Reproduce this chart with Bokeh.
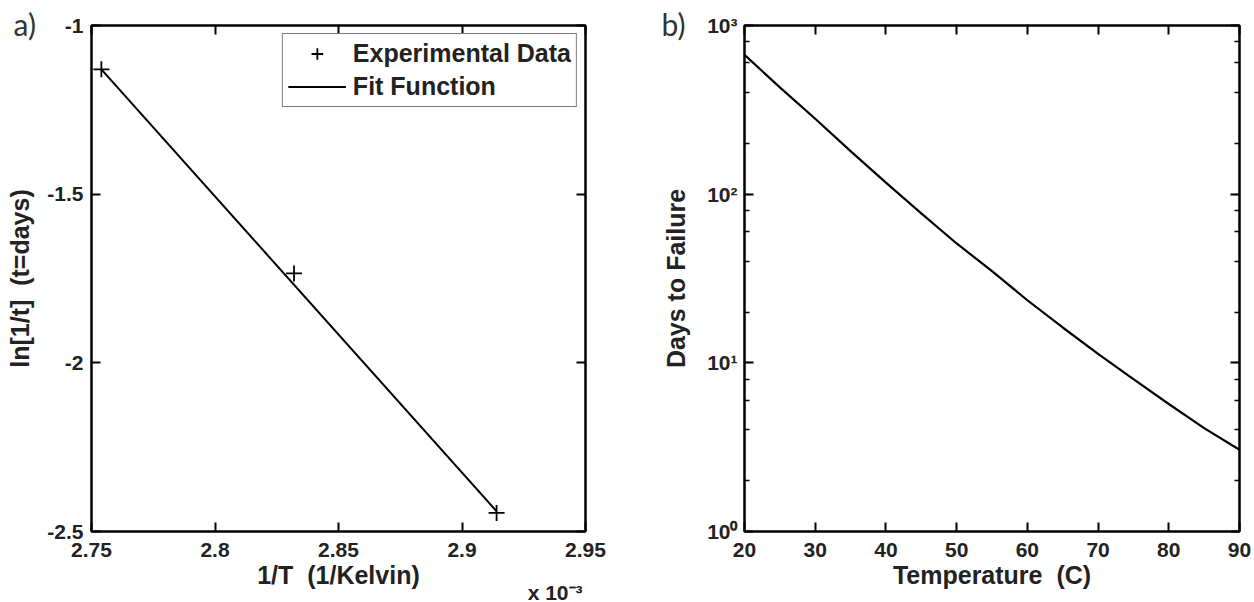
from bokeh.plotting import figure
from bokeh.layouts import row
from bokeh.models import (LinearAxis, LogAxis, FixedTicker, LogTicker, CustomJSTickFormatter,
                          Legend, LegendItem, Range1d, Title)
from bokeh.embed import file_html
from bokeh.resources import INLINE

# ---------------- data ----------------
# panel a: Arrhenius plot (1/T in units of 1e-3 1/K)
inv_T = [2.754, 2.832, 2.914]
ln_inv_t = [-1.13, -1.735, -2.445]
fit_inv_T = [2.754, 2.914]
fit_ln_inv_t = [-1.13, -2.44]

# panel b: days to failure vs temperature
temp_C = [20, 25, 30, 35, 40, 45, 50, 55, 60, 65, 70, 75, 80, 85, 90]
days_to_failure = [670, 430, 280, 180, 117, 77, 51, 35, 23.5, 16.2, 11.3, 8.0, 5.7, 4.1, 3.05]

x_ticks_a = [2.75, 2.8, 2.85, 2.9, 2.95]
y_ticks_a = [-2.5, -2, -1.5, -1]
x_ticks_b = [20, 30, 40, 50, 60, 70, 80, 90]

FONT = "Liberation Sans"
TICK_SIZE = "21px"
LABEL_SIZE = "25px"
NB = "\u00a0"

num_fmt = CustomJSTickFormatter(code="return String(Math.round(tick*1000)/1000);")
log_fmt = CustomJSTickFormatter(code="""
const sup = {'-':'\u207b','0':'\u2070','1':'\u00b9','2':'\u00b2','3':'\u00b3','4':'\u2074',
             '5':'\u2075','6':'\u2076','7':'\u2077','8':'\u2078','9':'\u2079'};
const e = String(Math.round(Math.log10(tick)));
return '10' + e.split('').map(c => sup[c]).join('');
""")
blank_fmt = CustomJSTickFormatter(code="return '';")


def style_axis(ax):
    ax.axis_line_color = "black"
    ax.axis_line_width = 2
    ax.major_tick_line_color = "black"
    ax.major_tick_line_width = 2
    ax.major_tick_in = 9
    ax.major_tick_out = 0
    ax.minor_tick_line_color = "black"
    ax.minor_tick_line_width = 1.5
    ax.minor_tick_in = 5
    ax.minor_tick_out = 0
    ax.major_label_text_font = FONT
    ax.major_label_text_font_style = "bold"
    ax.major_label_text_color = "#222222"
    ax.major_label_text_font_size = TICK_SIZE
    ax.axis_label_text_font = FONT
    ax.axis_label_text_font_style = "bold"
    ax.axis_label_text_color = "#222222"
    ax.axis_label_text_font_size = LABEL_SIZE


def mirror_axis(ax):
    style_axis(ax)
    ax.formatter = blank_fmt
    ax.major_label_standoff = 0


def panel_title(p, text, offset):
    p.title.text = text
    p.title.align = "left"
    p.title.offset = offset
    p.title.vertical_align = "top"
    p.title.standoff = -37
    p.title.text_font = "Lato"
    p.title.text_font_size = "30px"
    p.title.text_font_style = "normal"
    p.title.text_color = "#333333"


# ---------------- panel a ----------------
pa = figure(width=625, height=600, output_backend="svg", toolbar_location=None,
            x_range=Range1d(2.75, 2.95), y_range=Range1d(-2.5, -1),
            min_border_left=91, min_border_right=40, min_border_top=25, min_border_bottom=69)
pa.outline_line_color = "black"
pa.outline_line_width = 2
pa.xgrid.visible = False
pa.ygrid.visible = False
panel_title(pa, "a)", -78)

fit_r = pa.line(fit_inv_T, fit_ln_inv_t, line_color="black", line_width=2)
pts_r = pa.scatter(inv_T, ln_inv_t, marker="cross", size=16, line_color="black", line_width=1.8)

pa.xaxis.ticker = FixedTicker(ticks=x_ticks_a, minor_ticks=[])
pa.yaxis.ticker = FixedTicker(ticks=y_ticks_a, minor_ticks=[])
pa.xaxis.formatter = num_fmt
pa.yaxis.formatter = num_fmt
pa.xaxis.axis_label = "1/T" + NB + NB + "(1/Kelvin)"
pa.yaxis.axis_label = "ln[1/t]" + NB + NB + "(t=days)"
for ax in pa.xaxis + pa.yaxis:
    style_axis(ax)
pa.xaxis.major_label_standoff = 11
pa.yaxis.major_label_standoff = 8
pa.xaxis.axis_label_standoff = 1
pa.yaxis.axis_label_standoff = 10

top_a = LinearAxis(ticker=FixedTicker(ticks=x_ticks_a, minor_ticks=[]))
right_a = LinearAxis(ticker=FixedTicker(ticks=y_ticks_a, minor_ticks=[]))
mirror_axis(top_a)
mirror_axis(right_a)
pa.add_layout(top_a, "above")
pa.add_layout(right_a, "right")

legend = Legend(items=[LegendItem(label="Experimental Data", renderers=[pts_r]),
                       LegendItem(label="Fit Function", renderers=[fit_r])],
                location="top_right", margin=8, padding=5, spacing=4,
                glyph_width=58, glyph_height=29, label_standoff=7, label_height=29,
                label_text_font=FONT, label_text_font_style="bold",
                label_text_font_size=LABEL_SIZE, label_text_color="#222222",
                border_line_color="black", border_line_width=1.5,
                background_fill_alpha=1.0)
pa.add_layout(legend)

pa.add_layout(Title(text="x 10\u207b\u00b3", align="right", offset=3, vertical_align="bottom",
                    standoff=-25, text_font=FONT, text_font_style="bold",
                    text_font_size="21px", text_color="#222222"), "below")

# ---------------- panel b ----------------
pb = figure(width=627, height=600, output_backend="svg", toolbar_location=None,
            y_axis_type="log", x_range=Range1d(20, 90), y_range=Range1d(1, 1000),
            min_border_left=119, min_border_right=13, min_border_top=25, min_border_bottom=69)
pb.outline_line_color = "black"
pb.outline_line_width = 2
pb.xgrid.visible = False
pb.ygrid.visible = False
panel_title(pb, "b)", -83)

pb.line(temp_C, days_to_failure, line_color="black", line_width=2.2)

pb.xaxis.ticker = FixedTicker(ticks=x_ticks_b, minor_ticks=[])
pb.xaxis.formatter = num_fmt
pb.yaxis.ticker = LogTicker()
pb.yaxis.formatter = log_fmt
pb.xaxis.axis_label = "Temperature" + NB + NB + "(C)"
pb.yaxis.axis_label = "Days to Failure"
for ax in pb.xaxis + pb.yaxis:
    style_axis(ax)
pb.xaxis.major_label_standoff = 11
pb.yaxis.major_label_standoff = 7
pb.xaxis.axis_label_standoff = 1
pb.yaxis.axis_label_standoff = 14

top_b = LinearAxis(ticker=FixedTicker(ticks=x_ticks_b, minor_ticks=[]))
right_b = LogAxis(ticker=LogTicker())
mirror_axis(top_b)
mirror_axis(right_b)
pb.add_layout(top_b, "above")
pb.add_layout(right_b, "right")

layout = row(pa, pb)
open("out.html", "w").write(file_html(layout, INLINE))
